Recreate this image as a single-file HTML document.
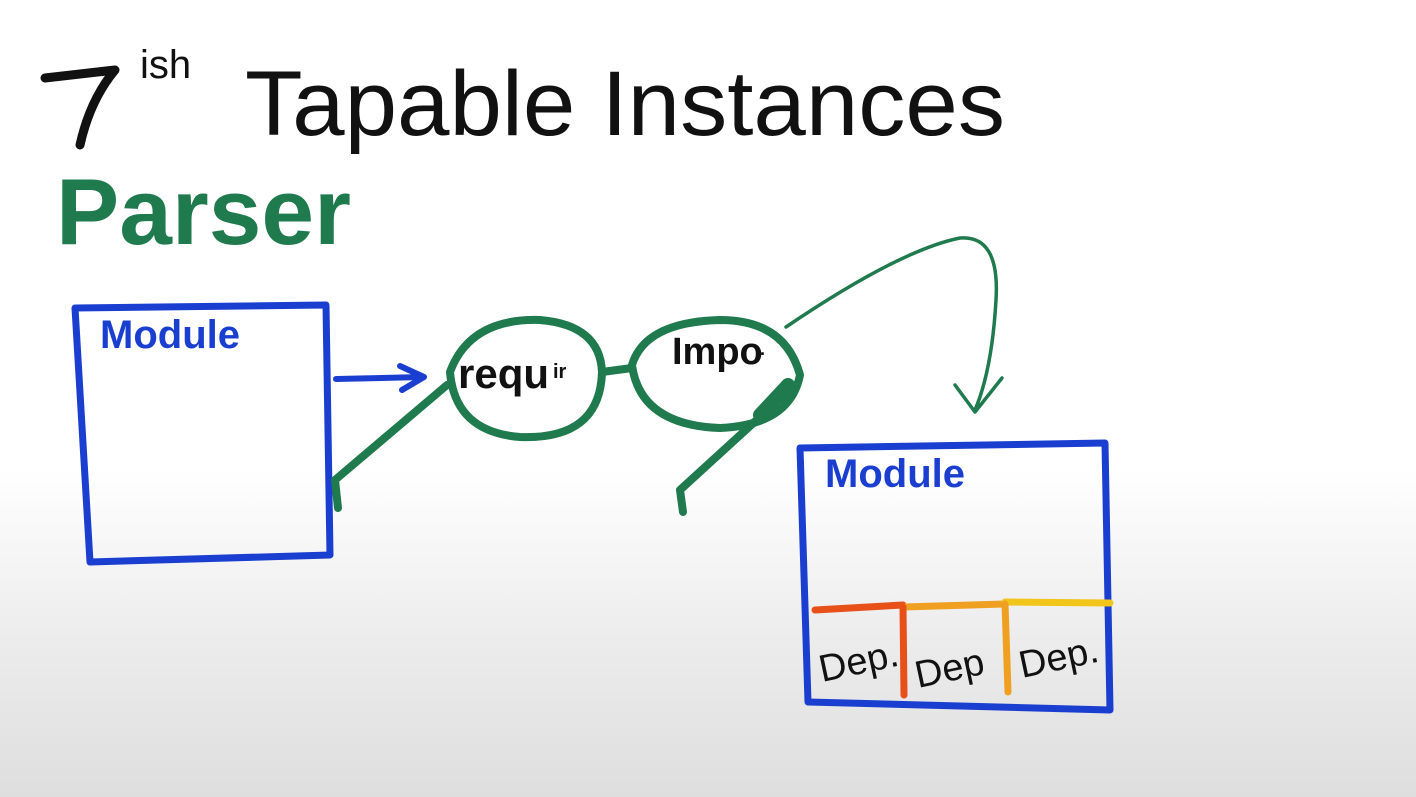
<!DOCTYPE html>
<html><head><meta charset="utf-8"><style>
html,body{margin:0;padding:0;}
body{width:1416px;height:797px;overflow:hidden;background:linear-gradient(to bottom,#fff 0px,#fff 470px,#ececec 640px,#dedede 797px);}
svg{display:block}
text{font-family:"Liberation Sans",sans-serif;}
</style></head><body>
<svg width="1416" height="797" viewBox="0 0 1416 797">
<g fill="none" stroke-linecap="round" stroke-linejoin="round">
<!-- title 7 -->
<path d="M45 78 L115 70 Q90 100 80 145" stroke="#111" stroke-width="9"/>
</g>
<text x="140" y="78" font-size="40" fill="#111">ish</text>
<text x="245" y="135" font-size="92" fill="#111" textLength="760" lengthAdjust="spacingAndGlyphs">Tapable Instances</text>
<text x="56" y="244" font-size="94" fill="#1f7a4d" font-weight="bold" textLength="295" lengthAdjust="spacingAndGlyphs">Parser</text>
<g fill="none" stroke-linecap="round" stroke-linejoin="round">
<!-- left module -->
<path d="M75 308 L326 305 L330 555 L90 562 Z" stroke="#1a3fd0" stroke-width="7"/>
<!-- blue arrow -->
<path d="M336 379 L423 377 M400 366 L424 377 L402 390" stroke="#1a3fd0" stroke-width="6"/>
<!-- glasses -->
<g stroke="#1f7a4d" stroke-width="8">
<path d="M450 372 Q470 318 540 320 Q600 325 602 372 Q600 440 520 437 Q455 432 450 372 Z"/>
<path d="M632 365 Q645 322 720 320 Q785 320 800 375 Q790 425 720 428 Q640 425 632 365 Z"/>
<path d="M602 372 L632 368"/>
<path d="M447 385 L335 480 L338 508"/>
<path d="M795 385 L680 490 L683 512"/>
<path d="M788 385 L760 415" stroke-width="14"/>
</g>
<!-- green curve arrow -->
<path d="M786 327 Q900 250 960 238 Q1000 235 996 300 Q992 370 975 410 M955 385 L975 412 L1002 378" stroke="#1f7a4d" stroke-width="3.5"/>
<!-- right module -->
<path d="M800 448 L1105 443 L1110 710 L808 702 Z" stroke="#1a3fd0" stroke-width="7"/>
<path d="M815 610 L903 605" stroke="#e8501a" stroke-width="7"/>
<path d="M903 607 L1005 604" stroke="#f0a020" stroke-width="7"/>
<path d="M1005 602 L1110 603" stroke="#f2c51a" stroke-width="7"/>
<path d="M903 607 L904 695" stroke="#e8501a" stroke-width="7"/>
<path d="M1005 604 L1008 692" stroke="#f0a020" stroke-width="7"/>
</g>
<text x="100" y="348" font-size="40" font-weight="bold" fill="#1a3fd0">Module</text>
<text x="825" y="487" font-size="40" font-weight="bold" fill="#1a3fd0">Module</text>
<text x="458" y="388" font-size="42" font-weight="bold" fill="#111">requ</text>
<text x="553" y="378" font-size="20" font-weight="bold" fill="#111">ir</text>
<text x="672" y="364" font-size="38" font-weight="bold" fill="#111">Impo</text>
<text x="755" y="355" font-size="18" font-weight="bold" fill="#111">..</text>
<text x="822" y="682" font-size="38" fill="#111" transform="rotate(-12 822 682)">Dep.</text>
<text x="918" y="688" font-size="38" fill="#111" transform="rotate(-12 918 688)">Dep</text>
<text x="1022" y="678" font-size="38" fill="#111" transform="rotate(-12 1022 678)">Dep.</text>
</svg>
</body></html>
